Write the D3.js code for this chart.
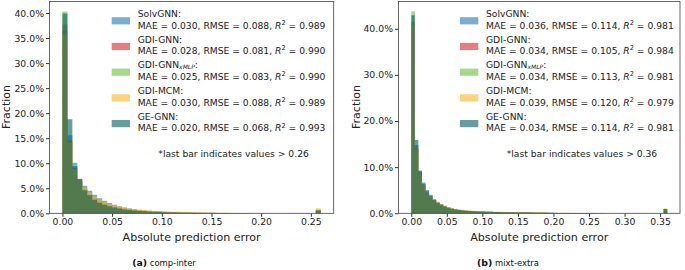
<!DOCTYPE html>
<html>
<head>
<meta charset="utf-8">
<script src="https://cdn.jsdelivr.net/npm/d3@7/dist/d3.min.js"></script>
<style>
body { margin: 0; background: #fff; }
svg { display: block; font-family: "DejaVu Sans", sans-serif; }
.tick text { fill: #222; }
.tick line { stroke: #333; }
</style>
</head>
<body>
<svg id="chart" width="685" height="270"></svg>
<script>
// bin width of both histograms, last bin holds the overflow values
const binW = 0.005;

const names = ["SolvGNN:", "GDI-GNN:", "GDI-GNN", "GDI-MCM:", "GE-GNN:"];
const colors = ["#1f77b4", "#d62728", "#69c03c", "#fab425", "#005d61"];

// (a) comp-inter, fraction in %
const solvA = [36.5,15.6,10.1,6.9,5.5,4.5,3.7,3.0,2.5,2.05, 1.7,1.4,1.15,.95,.8,.68,.58,.5,.43,.37, .32,.28,.24,.21,.18,.16,.14,.12,.11,.1, .09,.08,.07,.06,.05,.05,.04,.04,.03,.03, .03,.02,.02,.02,.02,.01,.01,.01,.01,.01, 0,.7];
const gdiA  = [37.7,14.5,9.0,6.5,4.8,3.8,2.95,2.35,1.9,1.6, 1.3,1.1,.92,.78,.66,.57,.49,.42,.36,.31, .27,.23,.2,.17,.15,.13,.11,.1,.09,.08, .07,.06,.05,.05,.04,.04,.03,.03,.03,.02, .02,.02,.02,.01,.01,.01,.01,.01,0,0, 0,.6];
const xmlpA = [40.3,14.3,8.9,6.4,4.7,3.7,2.85,2.25,1.85,1.55, 1.25,1.05,.88,.75,.63,.54,.46,.4,.34,.29, .25,.22,.19,.16,.14,.12,.1,.09,.08,.07, .06,.05,.05,.04,.04,.03,.03,.03,.02,.02, .02,.02,.01,.01,.01,.01,.01,.01,0,0, 0,.65];
const mcmA  = [35.7,14.2,8.8,6.6,5.1,4.1,3.3,2.65,2.2,1.85, 1.6,1.35,1.15,1.0,.87,.76,.67,.59,.52,.46, .41,.37,.33,.29,.26,.23,.2,.18,.16,.14, .12,.11,.1,.09,.08,.07,.06,.05,.05,.04, .04,.03,.03,.03,.02,.02,.02,.02,.01,.01, .01,1.0];
const geA   = [39.9,18.8,9.4,6.8,4.6,3.6,2.7,2.1,1.7,1.4, 1.15,.95,.78,.65,.55,.46,.39,.33,.28,.24, .2,.17,.15,.13,.11,.1,.08,.07,.06,.05, .05,.04,.04,.03,.03,.03,.02,.02,.02,.02, .01,.01,.01,.01,.01,.01,0,0,0,0, 0,.55];
const statsA = [["0.030","0.088","0.989"],["0.028","0.081","0.990"],["0.025","0.083","0.990"],["0.030","0.088","0.989"],["0.020","0.068","0.993"]];

// (b) mixt-extra
const solvB = [41.5,14.8,9.3,6.65,5.07,4.0,3.1,2.5,2.0,1.62, 1.32,1.08,.9,.77,.67,.59,.53,.48,.44,.4, .37,.34,.32,.3,.28,.26,.24,.22,.21,.2, .19,.18,.17,.16,.15,.14,.13,.12,.11,.1, .1,.09,.08,.08,.07,.07,.06,.06,.05,.05, .05,.04,.04,.04,.03,.03,.03,.03,.02,.02, .02,.02,.02,.02,.01,.01,.01,.01,.01,.01, .01,.95];
const gdiB  = [41.0,14.0,8.8,6.15,4.4,3.45,2.75,2.2,1.7,1.38, 1.12,.93,.78,.67,.58,.51,.46,.42,.38,.35, .33,.31,.29,.27,.25,.23,.22,.2,.19,.18, .17,.16,.15,.14,.13,.12,.11,.1,.1,.09, .08,.08,.07,.07,.06,.06,.05,.05,.05,.04, .04,.04,.03,.03,.03,.03,.02,.02,.02,.02, .02,.02,.01,.01,.01,.01,.01,.01,.01,.01, 0,.9];
const xmlpB = [43.8,13.9,8.7,6.1,4.35,3.4,2.7,2.2,1.65,1.33, 1.08,.88,.74,.63,.55,.49,.44,.4,.37,.34, .32,.3,.28,.26,.24,.22,.21,.19,.18,.17, .16,.15,.14,.13,.12,.11,.1,.1,.09,.08, .08,.07,.07,.06,.06,.05,.05,.05,.04,.04, .04,.03,.03,.03,.03,.02,.02,.02,.02,.02, .01,.01,.01,.01,.01,.01,.01,.01,0,0, 0,1.0];
const mcmB  = [40.9,13.8,8.6,6.2,4.6,3.7,3.0,2.45,2.0,1.65, 1.38,1.16,.98,.85,.75,.67,.6,.55,.5,.46, .43,.4,.37,.35,.33,.31,.29,.27,.25,.24, .22,.21,.2,.19,.18,.17,.16,.15,.14,.13, .12,.11,.1,.1,.09,.08,.08,.07,.07,.06, .06,.05,.05,.05,.04,.04,.04,.03,.03,.03, .03,.02,.02,.02,.02,.02,.01,.01,.01,.01, .01,1.05];
const geB   = [42.9,15.9,9.1,6.4,4.8,3.8,2.9,2.3,1.85,1.5, 1.22,1.0,.83,.71,.62,.55,.49,.45,.41,.38, .35,.33,.31,.29,.27,.25,.23,.21,.2,.19, .18,.17,.16,.15,.14,.13,.12,.11,.1,.1, .09,.08,.08,.07,.07,.06,.06,.05,.05,.04, .04,.04,.03,.03,.03,.03,.02,.02,.02,.02, .02,.02,.01,.01,.01,.01,.01,.01,.01,.01, 0,.95];
const statsB = [["0.036","0.114","0.981"],["0.034","0.105","0.984"],["0.034","0.113","0.981"],["0.039","0.120","0.979"],["0.034","0.114","0.981"]];

const xTicksA = [0, 0.05, 0.10, 0.15, 0.20, 0.25];
const yTicksA = [0, 5, 10, 15, 20, 25, 30, 35, 40];
const xTicksB = [0, 0.05, 0.10, 0.15, 0.20, 0.25, 0.30, 0.35];
const yTicksB = [0, 10, 20, 30, 40];

const svg = d3.select("#chart");
const fs = 9.2; // legend / note text size

function panel(p) {
  const x = d3.scaleLinear().domain(p.xDom).range([p.x0, p.x1]);
  const y = d3.scaleLinear().domain([0, p.yMax]).range([213.3, 1.5]);
  const g = svg.append("g");

  const area = d3.area()
    .x(d => x(d[0]))
    .y0(y(0))
    .y1(d => y(d[1]))
    .curve(d3.curveStepAfter);

  p.series.forEach((s, k) => {
    const pts = s.map((v, i) => [i * binW, v]);
    pts.push([s.length * binW, s[s.length - 1]]);
    g.append("path")
      .attr("d", area(pts))
      .attr("fill", colors[k])
      .attr("fill-opacity", 0.6);
  });

  const ax = g.append("g")
    .attr("transform", "translate(0,213.3)")
    .call(d3.axisBottom(x).tickValues(p.xTicks).tickFormat(d3.format(".2f"))
      .tickSize(3.5).tickPadding(2));
  const ay = g.append("g")
    .attr("transform", "translate(" + p.x0 + ",0)")
    .call(d3.axisLeft(y).tickValues(p.yTicks).tickFormat(d => d.toFixed(1) + "%")
      .tickSize(3.5).tickPadding(2));
  [ax, ay].forEach(a => {
    a.select(".domain").remove();
    a.selectAll("text").attr("font-size", 9.3).attr("font-family", "DejaVu Sans");
  });

  g.append("rect")
    .attr("x", p.x0).attr("y", 1.5)
    .attr("width", p.x1 - p.x0).attr("height", 211.8)
    .attr("fill", "none").attr("stroke", "#444").attr("stroke-width", 0.8);

  g.append("text")
    .attr("transform", "translate(" + p.ylabX + ",107) rotate(-90)")
    .attr("text-anchor", "middle").attr("font-size", 11).attr("fill", "#222")
    .text("Fraction");
  g.append("text")
    .attr("x", (p.x0 + p.x1) / 2).attr("y", 240.5)
    .attr("text-anchor", "middle").attr("font-size", 11.1).attr("fill", "#222")
    .text("Absolute prediction error");

  // legend
  names.forEach((n, k) => {
    const yy = 25.7 * k;
    g.append("rect")
      .attr("x", p.legX).attr("y", 17.2 + yy)
      .attr("width", 18.3).attr("height", 7.2)
      .attr("fill", colors[k]).attr("fill-opacity", 0.6);
    const t = g.append("text")
      .attr("x", p.legX + 26).attr("y", 16.8 + yy)
      .attr("font-size", fs).attr("fill", "#222");
    t.append("tspan").text(n);
    if (k === 2) {
      t.append("tspan").attr("font-size", 6).attr("font-style", "italic").attr("dy", 1.2).text("xMLP");
      t.append("tspan").attr("dy", -1.2).text(":");
    }
    const st = p.stats[k];
    const m = g.append("text")
      .attr("x", p.legX + 26).attr("y", 28.5 + yy)
      .attr("font-size", fs).attr("fill", "#222");
    m.append("tspan").text("MAE = " + st[0] + ", RMSE = " + st[1] + ", ");
    m.append("tspan").attr("font-style", "italic").text("R");
    m.append("tspan").attr("font-size", 6.6).attr("dy", -3.8).text("2");
    m.append("tspan").attr("dy", 3.8).text(" = " + st[2]);
  });

  g.append("text")
    .attr("x", p.noteX).attr("y", 157.4)
    .attr("font-size", fs).attr("fill", "#222")
    .text("*last bar indicates values > " + p.cut);

  const c = g.append("text")
    .attr("x", p.capX).attr("y", 266)
    .attr("text-anchor", "middle").attr("font-size", 9.4).attr("fill", "#111");
  c.append("tspan").attr("font-weight", "bold").text(p.capA);
  c.append("tspan").attr("font-family", "DejaVu Sans Condensed").text(" " + p.capB);
}

panel({
  xDom: [-0.013, 0.273], x0: 49.5, x1: 333.7, yMax: 42.3,
  xTicks: xTicksA, yTicks: yTicksA,
  series: [solvA, gdiA, xmlpA, mcmA, geA], stats: statsA,
  ylabX: 10, legX: 111.7, noteX: 158.3, cut: "0.26",
  capX: 164, capA: "(a)", capB: "comp-inter"
});
panel({
  xDom: [-0.018, 0.378], x0: 398.5, x1: 680, yMax: 45.9,
  xTicks: xTicksB, yTicks: yTicksB,
  series: [solvB, gdiB, xmlpB, mcmB, geB], stats: statsB,
  ylabX: 360, legX: 460, noteX: 506.7, cut: "0.36",
  capX: 508, capA: "(b)", capB: "mixt-extra"
});
</script>
</body>
</html>
